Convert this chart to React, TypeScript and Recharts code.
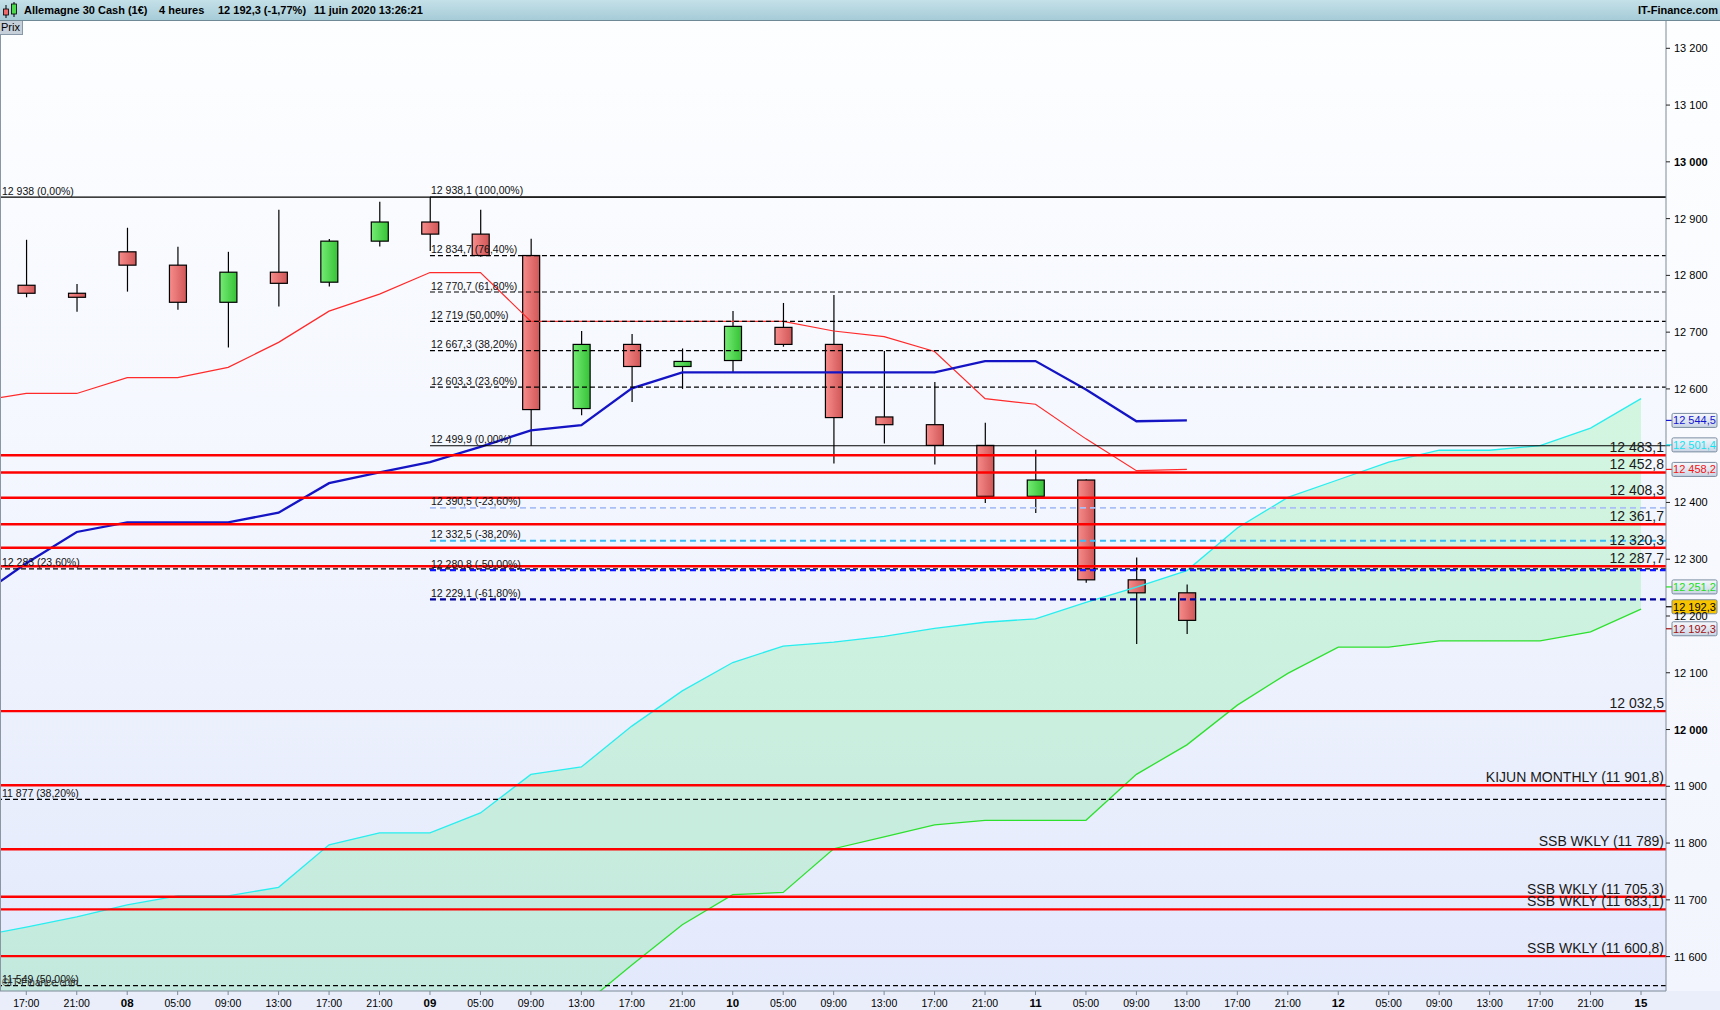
import React from 'react';
import { ComposedChart, Bar, Line, Area, XAxis, YAxis, ReferenceLine, ReferenceDot } from 'recharts';

if (typeof document !== 'undefined') {
  document.body.style.margin = '0';
  document.body.style.overflow = 'hidden';
}

// ---------- layout constants ----------
const CHART_W = 1720;
const CHART_H = 1010;
const TOP = 21;
const PLOT_BOTTOM = 991;
const AXIS_W = 54;
const PLOT_RIGHT = CHART_W - AXIS_W;
const X_MIN = -0.521;
const X_MAX = 32.495;
const Y_MIN = 11539.4;
const Y_MAX = 13248.1;
const FONT = "'Liberation Sans', Arial, sans-serif";
const NARROW = "'Liberation Sans Narrow', 'Arial Narrow', 'Liberation Sans', Arial, sans-serif";

// ---------- data ----------
const SLOTS = Array.from({ length: 34 }, (_, i) => i - 1); // -1 .. 32

const xLabels = [
  '17:00', '21:00', '08', '05:00', '09:00', '13:00', '17:00', '21:00', '09', '05:00', '09:00',
  '13:00', '17:00', '21:00', '10', '05:00', '09:00', '13:00', '17:00', '21:00', '11', '05:00',
  '09:00', '13:00', '17:00', '21:00', '12', '05:00', '09:00', '13:00', '17:00', '21:00', '15',
];
const dayLabels = ['08', '09', '10', '11', '12', '15'];
const xTicks = Array.from({ length: 33 }, (_, i) => i);
const yTicks = [11600, 11700, 11800, 11900, 12000, 12100, 12200, 12300, 12400, 12500, 12600, 12700, 12800, 12900, 13000, 13100, 13200];
// tick labels hidden behind the value boxes on the price axis
const yTicksCovered = [12500];

// candles, slots 0..23
const openVals = [12782.6, 12768.5, 12841.5, 12818, 12752.6, 12805.6, 12788, 12860.3, 12894, 12872.7, 12835, 12565.4, 12678.4, 12639.5, 12650, 12708.4, 12678.4, 12550.6, 12537, 12500.5, 12410.8, 12439.5, 12263.7, 12240.8];
const highVals = [12862.7, 12785, 12883.9, 12850.3, 12841.5, 12915.7, 12864, 12929.8, 12938.1, 12915.7, 12864.5, 12702, 12696.6, 12671.3, 12737.3, 12751.4, 12765.5, 12666.6, 12612, 12540.5, 12492.9, 12441, 12303, 12255.5];
const lowVals = [12761.4, 12736, 12771.4, 12739.6, 12673, 12745, 12780.3, 12850.9, 12843, 12833, 12499.9, 12553.6, 12577, 12600, 12629.5, 12674.3, 12468.8, 12503.7, 12467, 12399, 12381.5, 12258.4, 12150.6, 12168.2];
const closeVals = [12768.5, 12761.4, 12818, 12752.6, 12805.6, 12786, 12860.3, 12894, 12872.7, 12835, 12563.6, 12678.4, 12639.5, 12648.4, 12710.2, 12678.4, 12549.5, 12537, 12500.5, 12410.8, 12439.5, 12263.7, 12240.8, 12192.3];

// ichimoku lines, slots -1..23
const tenkan = [12578, 12592, 12592, 12620, 12620, 12638, 12682, 12737, 12767, 12805, 12805, 12719, 12719, 12719, 12719, 12719, 12719, 12702, 12692, 12666, 12583, 12573, 12512, 12456, 12458.2];
const kijun = [12231, 12293, 12348, 12365, 12365, 12365, 12382, 12434, 12453, 12471, 12498, 12527, 12536, 12601, 12629, 12629, 12629, 12629, 12629, 12629, 12649, 12649, 12599, 12543, 12544.5];
// slots -1..32
const spanA = [11635, 11652, 11670, 11691, 11707, 11707, 11722, 11797, 11818, 11818, 11853, 11921, 11934, 12006, 12068, 12118, 12147, 12154, 12164, 12178, 12189, 12195, 12224, 12251, 12280, 12355, 12409, 12440, 12471, 12492, 12492, 12500, 12531, 12583];
const spanB = [11452, 11452, 11468, 11468, 11470, 11481, 11481, 11487, 11495, 11495, 11503, 11508, 11512, 11585, 11656, 11709, 11713, 11790, 11811, 11832, 11840, 11840, 11840, 11921, 11973, 12043, 12099, 12145, 12145, 12156, 12156, 12156, 12172, 12212];

// fibonacci set A (from chart start)
const fibAValues = [12938, 12283, 11877, 11549];
const fibALabels = ['12 938 (0,00%)', '12 283 (23,60%)', '11 877 (38,20%)', '11 549 (50,00%)'];
const fibASolid = [true, false, false, false];

// fibonacci set B (from slot 8)
const FIB_B_START = 8;
const fibBValues = [12938.1, 12834.7, 12770.7, 12719, 12667.3, 12603.3, 12499.9, 12390.5, 12332.5, 12280.8, 12229.1];
const fibBLabels = ['12 938,1 (100,00%)', '12 834,7 (76,40%)', '12 770,7 (61,80%)', '12 719 (50,00%)', '12 667,3 (38,20%)', '12 603,3 (23,60%)', '12 499,9 (0,00%)', '12 390,5 (-23,60%)', '12 332,5 (-38,20%)', '12 280,8 (-50,00%)', '12 229,1 (-61,80%)'];
const fibBStyles = [
  { c: '#000', w: 1.2, d: undefined },
  { c: '#000', w: 1.2, d: '5 3' },
  { c: '#000', w: 1.2, d: '5 3' },
  { c: '#000', w: 1.2, d: '5 3' },
  { c: '#000', w: 1.2, d: '5 3' },
  { c: '#000', w: 1.2, d: '5 3' },
  { c: '#000', w: 1.2, d: undefined },
  { c: '#a9bff5', w: 1.8, d: '6 4' },
  { c: '#3cbcf5', w: 1.8, d: '6 4' },
  { c: '#0a14ff', w: 2.2, d: '6 4' },
  { c: '#00009a', w: 2.2, d: '6 4' },
];

// red support / resistance levels
const redValues = [12483.1, 12452.8, 12408.3, 12361.7, 12320.3, 12287.7, 12032.5, 11901.8, 11789, 11705.3, 11683.1, 11600.8];
const redLabels = ['12 483,1', '12 452,8', '12 408,3', '12 361,7', '12 320,3', '12 287,7', '12 032,5', 'KIJUN MONTHLY (11 901,8)', 'SSB WKLY (11 789)', 'SSB WKLY (11 705,3)', 'SSB WKLY (11 683,1)', 'SSB WKLY (11 600,8)'];

// value boxes on the price axis
const boxValues = [12544.5, 12501.4, 12458.2, 12251.2, 12192.3, 12192.3];
const boxTexts = ['12 544,5', '12 501,4', '12 458,2', '12 251,2', '12 192,3', '12 192,3'];
const boxStyles = [
  { fg: '#1414d0', bg: 'url(#gBox)', dy: 0 },
  { fg: '#10e4f0', bg: 'url(#gBox)', dy: 0 },
  { fg: '#f01414', bg: 'url(#gBox)', dy: 0 },
  { fg: '#22dd22', bg: 'url(#gBox)', dy: 0 },
  { fg: '#000000', bg: '#f8c400', dy: -13.6 },
  { fg: '#a01010', bg: 'url(#gBox)', dy: 8.4 },
];

const rows = SLOTS.map((slot) => {
  const r: any = { slot };
  const ci = slot;
  if (ci >= 0 && ci < openVals.length) {
    r.open = openVals[ci];
    r.high = highVals[ci];
    r.low = lowVals[ci];
    r.close = closeVals[ci];
    r.hl = [lowVals[ci], highVals[ci]];
  }
  const li = slot + 1;
  if (li >= 0 && li < tenkan.length) r.tenkan = tenkan[li];
  if (li >= 0 && li < kijun.length) r.kijun = kijun[li];
  r.spanA = spanA[li];
  r.spanB = spanB[li];
  r.cloud = [spanB[li], spanA[li]];
  return r;
});

const fmt = (v: number) => String(v).replace(/\B(?=(\d{3})+(?!\d))/g, ' ');

// ---------- shapes ----------
const CandleShape = (props: any) => {
  const { x, y, width, height } = props;
  const d = props.payload && props.payload.high != null ? props.payload : rows[props.index];
  if (!d || d.high == null || !isFinite(y) || !isFinite(height)) return null;
  const top = Math.min(y, y + height);
  const bot = Math.max(y, y + height);
  const k = (bot - top) / (d.high - d.low);
  const py = (v: number) => top + (d.high - v) * k;
  const cx = x + width / 2;
  const up = d.close >= d.open;
  const bTop = py(Math.max(d.open, d.close));
  const bBot = py(Math.min(d.open, d.close));
  const bw = 17;
  return (
    <g>
      <line x1={cx} x2={cx} y1={top} y2={bot} stroke="#000" strokeWidth={1.2} />
      <rect x={cx - bw / 2} y={bTop} width={bw} height={Math.max(1.5, bBot - bTop)} fill={up ? 'url(#gUp)' : 'url(#gDn)'} stroke="#000" strokeWidth={1.2} />
    </g>
  );
};

const XTick = (p: any) => {
  const lbl = xLabels[p.payload.value] ?? '';
  const isDay = dayLabels.includes(lbl);
  return (
    <g>
      <text x={p.x} y={p.y} dy={10} textAnchor="middle" fontSize={isDay ? 11.5 : 10.5} fontWeight={isDay ? 'bold' : 'normal'} fontFamily={NARROW} fill="#000">
        {lbl}
      </text>
    </g>
  );
};

const YTick = (p: any) => {
  const v = p.payload.value;
  if (yTicksCovered.includes(v)) return <g />;
  const bold = v % 1000 === 0;
  return (
    <text x={p.x} y={p.y} dx={2} dy={4} textAnchor="start" fontSize={11} fontWeight={bold ? 'bold' : 'normal'} fontFamily={FONT} fill="#000">
      {fmt(v)}
    </text>
  );
};

const smallText = (txt: string, dx: number) => (p: any) => (
  <text x={p.cx + dx} y={p.cy - 2.5} textAnchor="start" fontSize={10.5} fontFamily={FONT} fill="#111">
    {txt}
  </text>
);

const rightText = (txt: string) => (p: any) => (
  <text x={p.cx - 2} y={p.cy - 3} textAnchor="end" fontSize={14} fontFamily={FONT} fill="#1a1a1a">
    {txt}
  </text>
);

const boxShape = (i: number) => (p: any) => {
  const st = boxStyles[i];
  const cy = p.cy + st.dy;
  const x0 = p.cx + 6;
  return (
    <g>
      <line x1={p.cx} x2={x0} y1={cy} y2={cy} stroke={st.fg} strokeWidth={1.2} />
      <rect x={x0} y={cy - 7} width={45} height={14} rx={1.5} fill={st.bg} stroke="#7a8ca0" strokeWidth={1} />
      <text x={x0 + 22.5} y={cy + 4} textAnchor="middle" fontSize={11} fontFamily={FONT} fill={st.fg}>
        {boxTexts[i]}
      </text>
    </g>
  );
};

export default function App() {
  return (
    <div style={{ position: 'relative', width: CHART_W, height: CHART_H, overflow: 'hidden', background: '#f4f6fb', fontFamily: FONT }}>
      <svg width={0} height={0} style={{ position: 'absolute' }}>
        <defs>
          <linearGradient id="gDn" x1="0" y1="0" x2="1" y2="0">
            <stop offset="0%" stopColor="#f88c8c" />
            <stop offset="100%" stopColor="#d05656" />
          </linearGradient>
          <linearGradient id="gUp" x1="0" y1="0" x2="1" y2="0">
            <stop offset="0%" stopColor="#74ec74" />
            <stop offset="100%" stopColor="#36c236" />
          </linearGradient>
          <linearGradient id="gBox" x1="0" y1="0" x2="0" y2="1">
            <stop offset="0%" stopColor="#f6f8fc" />
            <stop offset="100%" stopColor="#c9d4e4" />
          </linearGradient>
        </defs>
      </svg>
      {/* plot background */}
      <div
        style={{
          position: 'absolute', left: 0, top: TOP, width: PLOT_RIGHT, height: PLOT_BOTTOM - TOP,
          background: 'linear-gradient(to bottom, #fdfeff 0%, #f4f7fe 45%, #e3e9fc 100%)',
        }}
      />
      <div style={{ position: 'absolute', left: PLOT_RIGHT, top: TOP, width: AXIS_W, height: PLOT_BOTTOM - TOP, background: 'linear-gradient(to bottom, #fdfeff 0%, #f2f5fd 100%)' }} />
      <div style={{ position: 'absolute', left: 0, top: PLOT_BOTTOM, width: CHART_W, height: CHART_H - PLOT_BOTTOM, background: '#e9eefa' }} />
      <div style={{ position: 'absolute', left: 0, top: 0 }}>
        <ComposedChart width={CHART_W} height={CHART_H} data={rows} margin={{ top: TOP, right: 0, bottom: 0, left: 0 }}>
          <XAxis
            dataKey="slot"
            type="number"
            domain={[X_MIN, X_MAX]}
            allowDataOverflow
            ticks={xTicks}
            interval={0}
            height={CHART_H - PLOT_BOTTOM}
            tickSize={4}
            tick={<XTick />}
            axisLine={{ stroke: '#7d8a98' }}
            tickLine={{ stroke: '#7d8a98' }}
          />
          <YAxis
            orientation="right"
            type="number"
            domain={[Y_MIN, Y_MAX]}
            allowDataOverflow
            ticks={yTicks}
            interval={0}
            width={AXIS_W}
            tickSize={4}
            tick={<YTick />}
            axisLine={{ stroke: '#7d8a98' }}
            tickLine={{ stroke: '#222' }}
          />
          <Area dataKey="cloud" type="linear" stroke="none" fill="#22ee44" fillOpacity={0.16} isAnimationActive={false} />
          <Line dataKey="spanA" type="linear" stroke="#28eef0" strokeWidth={1.3} dot={false} isAnimationActive={false} />
          <Line dataKey="spanB" type="linear" stroke="#2ee02e" strokeWidth={1.3} dot={false} isAnimationActive={false} />
          <Bar dataKey="hl" barSize={17} shape={<CandleShape />} isAnimationActive={false} />
          <Line dataKey="tenkan" type="linear" stroke="#ff2a2a" strokeWidth={1.2} dot={false} isAnimationActive={false} />
          <Line dataKey="kijun" type="linear" stroke="#1414c4" strokeWidth={2.3} dot={false} isAnimationActive={false} />

          {fibAValues.map((v, i) => (
            <ReferenceLine key={'fa' + i} y={v} stroke="#000" strokeWidth={1.2} strokeDasharray={fibASolid[i] ? undefined : '5 3'} />
          ))}
          {fibBValues.map((v, i) => (
            <ReferenceLine
              key={'fb' + i}
              segment={[{ x: FIB_B_START, y: v }, { x: X_MAX, y: v }]}
              stroke={fibBStyles[i].c}
              strokeWidth={fibBStyles[i].w}
              strokeDasharray={fibBStyles[i].d}
            />
          ))}
          {redValues.map((v, i) => (
            <ReferenceLine key={'r' + i} y={v} stroke="#ff0000" strokeWidth={2.4} />
          ))}

          {fibAValues.map((v, i) => (
            <ReferenceDot key={'fal' + i} x={X_MIN} y={v} r={0} ifOverflow="visible" shape={smallText(fibALabels[i], 2)} />
          ))}
          {fibBValues.map((v, i) => (
            <ReferenceDot key={'fbl' + i} x={FIB_B_START} y={v} r={0} ifOverflow="visible" shape={smallText(fibBLabels[i], 1)} />
          ))}
          {redValues.map((v, i) => (
            <ReferenceDot key={'rl' + i} x={X_MAX} y={v} r={0} ifOverflow="visible" shape={rightText(redLabels[i])} />
          ))}
          {boxValues.map((v, i) => (
            <ReferenceDot key={'b' + i} x={X_MAX} y={v} r={0} ifOverflow="visible" shape={boxShape(i)} />
          ))}
        </ComposedChart>
      </div>

      {/* left border */}
      <div style={{ position: 'absolute', left: 0, top: TOP, width: 1, height: PLOT_BOTTOM - TOP, background: '#8a96a4' }} />

      {/* header */}
      <div
        style={{
          position: 'absolute', left: 0, top: 0, width: CHART_W, height: 20,
          background: 'linear-gradient(to bottom, #c4e0e8 0%, #a6ccd8 100%)',
          borderBottom: '1px solid #6f8a96', fontSize: 11, fontWeight: 'bold', color: '#000',
        }}
      >
        <svg width={20} height={20} style={{ position: 'absolute', left: 1, top: 0 }}>
          <line x1={5} x2={5} y1={5} y2={18} stroke="#000" strokeWidth={1} />
          <rect x={2.5} y={9} width={5} height={6} fill="#ee6a6a" stroke="#000" strokeWidth={0.8} />
          <line x1={13} x2={13} y1={2} y2={17} stroke="#000" strokeWidth={1} />
          <rect x={10.5} y={4} width={5} height={10} fill="#4ed84e" stroke="#000" strokeWidth={0.8} />
        </svg>
        <span style={{ position: 'absolute', left: 24, top: 4 }}>Allemagne 30 Cash (1€)</span>
        <span style={{ position: 'absolute', left: 159, top: 4 }}>4 heures</span>
        <span style={{ position: 'absolute', left: 218, top: 4 }}>12 192,3 (-1,77%)</span>
        <span style={{ position: 'absolute', left: 314, top: 4 }}>11 juin 2020 13:26:21</span>
        <span style={{ position: 'absolute', right: 2, top: 4 }}>IT-Finance.com</span>
      </div>

      {/* Prix tab */}
      <div
        style={{
          position: 'absolute', left: 0, top: 21, width: 21, height: 13,
          background: '#c6d0da', borderRight: '1px solid #8898a8', borderBottom: '1px solid #8898a8',
          fontSize: 11, lineHeight: '13px', paddingLeft: 1, color: '#000',
        }}
      >
        Prix
      </div>

      {/* watermark */}
      <div style={{ position: 'absolute', left: 2, top: 977, fontSize: 10, color: '#2a2a2a' }}>©IT-Finance.com</div>
    </div>
  );
}
